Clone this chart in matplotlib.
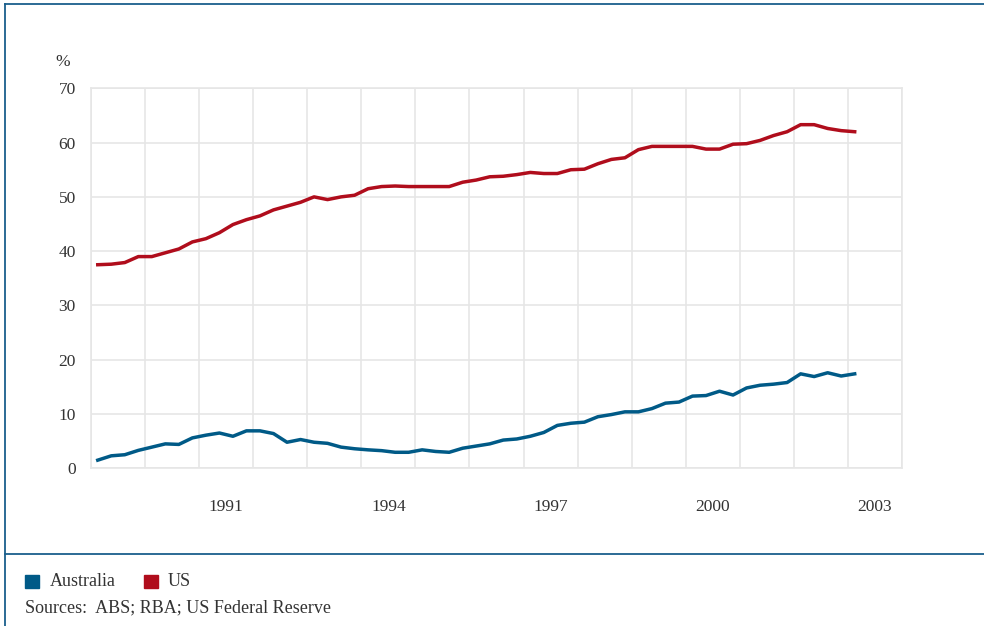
import numpy as np
import matplotlib
matplotlib.use("Agg")
import matplotlib.pyplot as plt
from matplotlib.lines import Line2D
from matplotlib.patches import Rectangle
from matplotlib.ticker import FixedLocator, NullFormatter, FixedFormatter

plt.rcParams['font.family'] = ['Liberation Serif', 'DejaVu Serif']

# Quarterly data, 1989 Q1 to 2003 Q1
start_year = 1989
australia = [1.5, 2.3, 2.5, 3.3, 3.9, 4.5, 4.4, 5.6, 6.1, 6.5, 5.9, 6.9, 6.9, 6.4, 4.8, 5.3,
             4.8, 4.6, 3.9, 3.6, 3.4, 3.25, 2.95, 2.95, 3.4, 3.1, 2.95, 3.7, 4.1, 4.5,
             5.2, 5.4, 5.9, 6.6, 7.9, 8.3, 8.5, 9.5, 9.9, 10.4, 10.4, 11.0, 12.0, 12.2,
             13.3, 13.4, 14.2, 13.5, 14.8, 15.3, 15.5, 15.8, 17.4, 16.9, 17.6, 17.0, 17.4]
us = [37.5, 37.6, 37.9, 39.0, 39.0, 39.7, 40.4, 41.7, 42.3, 43.4, 44.9, 45.8, 46.5, 47.6,
      48.3, 49.0, 50.0, 49.5, 50.0, 50.3, 51.5, 51.9, 52.0, 51.9, 51.9, 51.9, 51.9, 52.7,
      53.1, 53.7, 53.8, 54.1, 54.5, 54.3, 54.3, 55.0, 55.1, 56.1, 56.9, 57.2, 58.7, 59.3,
      59.3, 59.3, 59.3, 58.8, 58.8, 59.7, 59.8, 60.4, 61.3, 62.0, 63.3, 63.3, 62.6, 62.2, 62.0]
year_labels = ['1991', '1994', '1997', '2000', '2003']
y_ticks = [0, 10, 20, 30, 40, 50, 60, 70]
series_names = ['Australia', 'US']
colors = ['#005a87', '#b00d1c']
source_text = 'Sources:  ABS; RBA; US Federal Reserve'

W, H = 984, 626
fig = plt.figure(figsize=(W / 100, H / 100), dpi=100)
ax = fig.add_axes([91 / W, (H - 468.3) / H, (902 - 91) / W, (468.3 - 88.3) / H])

x = start_year + (np.arange(len(us)) + 0.5) / 4.0
ax.plot(x, australia, color=colors[0], lw=2.5, solid_joinstyle='round', zorder=3)
ax.plot(x, us, color=colors[1], lw=2.5, solid_joinstyle='round', zorder=3)

ax.set_xlim(1989, 2004)
ax.set_ylim(0, 70)
ax.xaxis.set_major_locator(FixedLocator(np.arange(1989, 2005)))
ax.xaxis.set_major_formatter(NullFormatter())
ax.xaxis.set_minor_locator(FixedLocator([int(v) + 0.5 for v in year_labels]))
ax.xaxis.set_minor_formatter(FixedFormatter(year_labels))
ax.set_yticks(y_ticks)
ax.tick_params(axis='both', which='both', length=0, colors='#333333', labelsize=12.5)
ax.tick_params(axis='x', which='minor', pad=22)
ax.tick_params(axis='y', pad=11)
ax.grid(True, which='major', color='#e6e6e6', lw=1.2)
for s in ax.spines.values():
    s.set_color('#e6e6e6')
    s.set_linewidth(1.2)

fig.text(63 / W, (H - 62) / H, '%', ha='center', va='center', fontsize=12.5, color='#333333')

# Frame lines
border = '#1a5f8c'
fig.add_artist(Line2D([4.7 / W, 4.7 / W], [0, 1 - 4.3 / H], color=border, lw=1.3))
fig.add_artist(Line2D([4.7 / W, 1], [1 - 4.3 / H, 1 - 4.3 / H], color=border, lw=1.3))
fig.add_artist(Line2D([4.7 / W, 1], [1 - 554 / H, 1 - 554 / H], color=border, lw=1.3))

# Legend
leg_pos = [(25, 50), (144, 168)]
for (sx, tx), name, c in zip(leg_pos, series_names, colors):
    fig.add_artist(Rectangle((sx / W, 1 - 588 / H), 14 / W, 13 / H, color=c, transform=fig.transFigure))
    fig.text(tx / W, 1 - 582 / H, name, ha='left', va='center', fontsize=13, color='#333333')
fig.text(25 / W, 1 - 608 / H, source_text, ha='left', va='center', fontsize=13, color='#333333')

fig.savefig('out.png', dpi=100)
